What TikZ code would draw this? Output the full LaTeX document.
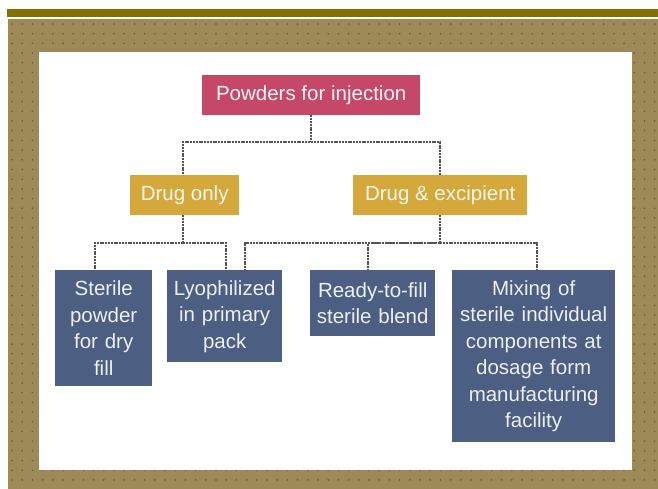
\documentclass[tikz,border=0pt]{standalone}
\usepackage{fontspec}
\setmainfont{Liberation Sans}
\definecolor{barolive}{HTML}{857000}
\definecolor{frametan}{HTML}{9E8A58}
\definecolor{framedot}{HTML}{6A5E40}
\definecolor{crim}{HTML}{C64868}
\definecolor{gold}{HTML}{D4A83A}
\definecolor{slate}{HTML}{4C5F82}
\definecolor{conncol}{HTML}{5A5250}
\tikzset{
  box/.style={anchor=north west, inner sep=0pt, align=center,
    font=\fontsize{20.5}{26.5}\selectfont},
  topbox/.style={box, fill=crim, text=white!95!crim},
  midbox/.style={box, fill=gold, text=white!92!gold},
  leafbox/.style={box, fill=slate, text=white!90!slate},
  conn/.style={draw=conncol, line width=1.8pt, dash pattern=on 2pt off 0.8pt}
}
\begin{document}
\begin{tikzpicture}[x=1pt,y=-1pt]
\useasboundingbox (0,0) rectangle (658,489);
% top bar
\fill[barolive] (7,9) rectangle (658,17);
% textured frame
\fill[frametan] (8,19) rectangle (658,489);
\foreach \i in {0,...,63}{
  \foreach \j in {0,...,47}{
    \fill[framedot] (12+10.2*\i, 24+9.7*\j) circle (0.9);
  }
}
\fill[white] (39,52) rectangle (632,470);
% nodes
\node[topbox, minimum width=218, minimum height=40] (top) at (202,75) {Powders for injection};
\node[midbox, minimum width=109, minimum height=40] (donly) at (130,175) {Drug only};
\node[midbox, minimum width=174, minimum height=40] (dexc) at (353,175) {Drug \& excipient};
\node[leafbox, minimum width=97, minimum height=116, text width=94] (sterile) at (55,270) {Sterile\\powder\\for dry\\fill};
\node[leafbox, minimum width=115, minimum height=92, text width=113] (lyo) at (167,270) {Lyophilized\\in primary\\pack};
\node[leafbox, minimum width=125, minimum height=66, text width=123] (ready) at (310,270) {Ready-to-fill\\sterile blend};
\node[leafbox, minimum width=163, minimum height=172, text width=160] (mix) at (452,270) {Mixing of\\sterile individual\\components at\\dosage form\\manufacturing\\facility};
% connectors
\coordinate (b1) at (0,142);
\coordinate (b2) at (0,243);
\draw[conn] (top.south) -- (top.south |- b1) -| ([xshift=-1.5pt]donly.north);
\draw[conn] (top.south |- b1) -| (dexc.north);
\draw[conn] ([xshift=-1.5pt]donly.south) -- ([xshift=-1.5pt]donly.south |- b2) -| ([xshift=-8.5pt]sterile.north);
\draw[conn] ([xshift=-1.5pt]donly.south |- b2) -| ([xshift=1.5pt]lyo.north);
\draw[conn] (dexc.south) -- (dexc.south |- b2) -| ([xshift=20pt]lyo.north);
\draw[conn] (dexc.south |- b2) -| ([xshift=-4.5pt]ready.north);
\draw[conn] (dexc.south |- b2) -| ([xshift=3.5pt]mix.north);
\end{tikzpicture}
\end{document}
